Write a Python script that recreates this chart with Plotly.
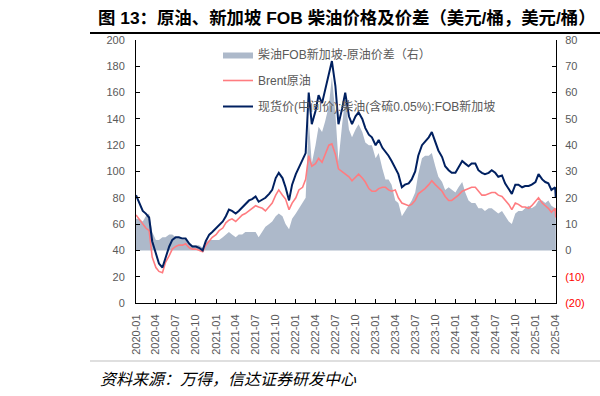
import pandas as pd
import plotly.graph_objects as go

# semi-monthly sample dates (1st & 15th), plus last observation
dates = [d.strftime("%Y-%m-%d") for d in pd.date_range("2020-01-01", "2025-04-01", freq="SMS")] + ["2025-04-04"]

diesel = [82, 76, 70, 68, 65, 47, 38, 30, 27, 34,
          43, 48, 50, 50, 49, 49, 45, 43, 43, 42,
          40, 47, 52, 54, 57, 59, 62, 66, 71, 70,
          68, 70, 73, 75, 78, 79, 81, 77, 79, 80,
          83, 86, 95, 99, 95, 88, 78, 90, 98, 103,
          108, 114, 160, 136, 146, 158, 152, 162, 172, 184,
          165, 136, 148, 160, 142, 136, 142, 145, 140, 133,
          128, 126, 120, 124, 118, 115, 112, 108, 103, 98,
          88, 90, 91, 94, 100, 112, 120, 123, 126, 130,
          122, 116, 111, 104, 101, 99, 99, 103, 108, 106,
          104, 106, 106, 101, 99, 98, 99, 101, 99, 96,
          97, 91, 86, 83, 90, 90, 88, 89, 89, 90,
          92, 98, 94, 92, 91, 86, 88, 80]

brent = [67, 64, 60, 57, 55, 35, 27, 24, 23, 31,
         36, 41, 43, 44, 44, 45, 42, 41, 41, 40,
         39, 44, 47, 50, 52, 55, 57, 61, 63, 64,
         62, 64, 67, 68, 70, 72, 74, 73, 72, 70,
         73, 76, 82, 86, 82, 79, 71, 76, 80, 86,
         88, 94, 112, 104, 106, 110, 107, 113, 120, 121,
         113, 102, 100, 98, 96, 93, 96, 98, 95, 92,
         87, 85, 85, 87, 88, 88, 86, 85, 86, 80,
         76, 75, 74, 75, 78, 83, 85, 87, 90, 93,
         90, 88, 85, 81, 78, 78, 80, 82, 85, 86,
         87, 88, 88, 85, 82, 82, 83, 84, 84, 82,
         81, 78, 75, 71, 76, 75, 73, 73, 72, 74,
         77, 80, 76, 74, 72, 69, 72, 65]

spread = [12, 12, 11, 13, 14, 7, 4, 4, 5, 5,
          6, 6, 5, 5, 4, 4, 2, 2, 2, 2,
          1, 3, 4, 4, 4, 4, 5, 6, 7, 6,
          5, 6, 6, 7, 7, 7, 7, 5, 7, 9,
          10, 11, 13, 14, 13, 10, 8, 12, 14, 16,
          18, 20, 50, 33, 40, 47, 45, 49, 55, 66,
          52, 34, 48, 58, 46, 43, 46, 48, 45, 41,
          40, 40, 35, 37, 31, 27, 27, 25, 19, 18,
          13, 15, 17, 19, 22, 29, 35, 36, 36, 37,
          32, 28, 26, 23, 24, 23, 22, 24, 26, 22,
          19, 18, 18, 16, 16, 15, 16, 16, 15, 14,
          15, 13, 11, 10, 14, 15, 15, 16, 17, 16,
          17, 19, 19, 18, 19, 17, 16, 14]

left_ticks = list(range(0, 201, 20))
right_ticks = list(range(-20, 81, 10))
right_labels = ['<span style="color:#FF0000">(20)</span>', '<span style="color:#FF0000">(10)</span>'] + [str(v) for v in range(0, 81, 10)]

names = ["柴油FOB新加坡-原油价差（右）", "Brent原油", "现货价(中间价):柴油(含硫0.05%):FOB新加坡"]

fig = go.Figure()
fig.add_trace(go.Scatter(x=dates, y=spread, name=names[0], mode="lines", line=dict(width=0, color="#ADB9CA"),
                         fill="tozeroy", fillcolor="#ADB9CA", yaxis="y", legendgroup="a"))
fig.add_trace(go.Scatter(x=dates, y=brent, name=names[1], mode="lines", line=dict(width=1.6, color="#FF7C80"),
                         yaxis="y2", legendgroup="b"))
fig.add_trace(go.Scatter(x=dates, y=diesel, name=names[2], mode="lines", line=dict(width=2, color="#002060"),
                         yaxis="y2", legendgroup="c"))

W, H = 600, 396
L, R, T, B = 136, 556, 40, 303
def px(x): return (x - L) / (R - L)
def py(y): return (B - y) / (B - T)

tickfont = dict(family="Liberation Sans, Noto Sans CJK SC", size=11, color="#595959")

fig.update_layout(
    width=W, height=H,
    margin=dict(l=L, r=W - R, t=T, b=H - B),
    paper_bgcolor="white", plot_bgcolor="white",
    showlegend=True,
    legend=dict(x=px(218), y=py(40), xanchor="left", yanchor="top", bgcolor="rgba(0,0,0,0)",
                font=dict(family="Liberation Sans, Noto Sans CJK SC", size=12, color="#595959"),
                traceorder="grouped", tracegroupgap=7, itemwidth=30),
    xaxis=dict(type="date", range=["2020-01-01", "2025-04-05"], tickformat="%Y-%m", dtick="M3",
               tick0="2020-01-01", tickangle=-90, ticks="inside", ticklen=4, tickcolor="black",
               showline=True, linecolor="black", linewidth=1, showgrid=False, zeroline=False,
               tickfont=tickfont, ticklabelstandoff=6),
    yaxis=dict(side="right", range=[-20, 80], tickvals=right_ticks, ticktext=right_labels,
               ticks="inside", ticklen=4, tickcolor="black", showline=True, linecolor="black",
               linewidth=1, showgrid=False, zeroline=False, tickfont=tickfont, ticklabelstandoff=6),
    yaxis2=dict(side="left", overlaying="y", range=[0, 200], tickvals=left_ticks,
                ticks="inside", ticklen=4, tickcolor="black", showline=True, linecolor="black",
                linewidth=1, showgrid=False, zeroline=False, tickfont=tickfont, ticklabelstandoff=8),
    font=dict(family="Liberation Sans, Noto Sans CJK SC"),
)

fig.add_shape(type="line", xref="paper", yref="paper", x0=px(90), x1=px(600), y0=py(33), y1=py(33),
              line=dict(color="black", width=2))
fig.add_shape(type="line", xref="paper", yref="paper", x0=px(90), x1=px(600), y0=py(361), y1=py(361),
              line=dict(color="#BFBFBF", width=1))

fig.add_annotation(text="<b>图 13：原油、新加坡 FOB 柴油价格及价差（美元/桶，美元/桶）</b>",
                   xref="paper", yref="paper", x=px(96), y=py(18), xanchor="left", yanchor="middle",
                   showarrow=False, font=dict(family="Liberation Sans, Noto Sans CJK SC", size=17.4, color="black"))
fig.add_annotation(text="<i>资料来源：万得，信达证券研发中心</i>",
                   xref="paper", yref="paper", x=px(98), y=py(378), xanchor="left", yanchor="middle",
                   showarrow=False, font=dict(family="Noto Sans CJK SC", size=16, color="black"))

fig.write_html("out.html", config={"displayModeBar": False},
               post_script="document.body.style.margin='0px';document.body.style.padding='0px';")
